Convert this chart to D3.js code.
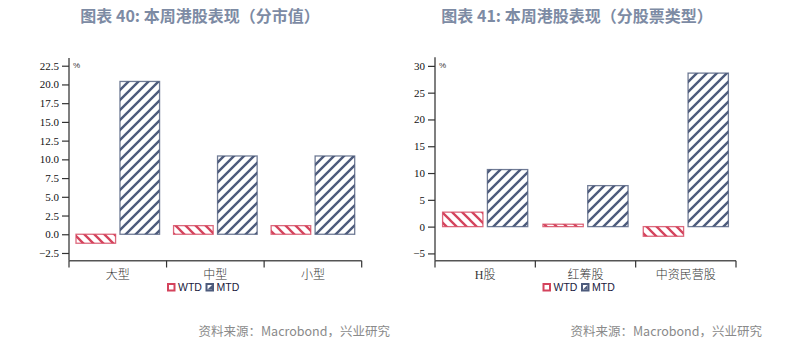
<!DOCTYPE html>
<html><head><meta charset="utf-8">
<script src="https://cdn.jsdelivr.net/npm/d3@7"></script>
<style>body{margin:0;background:#fff;} svg{display:block;}</style>
</head><body>
<svg id="c" width="794" height="347"></svg>
<script>
// ---- data ----
const titles = ["图表 40: 本周港股表现（分市值）", "图表 41: 本周港股表现（分股票类型）"];
const source = "资料来源：Macrobond，兴业研究";
const seriesNames = ["WTD", "MTD"];
const categoriesA = ["大型", "中型", "小型"];
const wtdA = [-1.2, 1.15, 1.15];
const mtdA = [20.4, 10.45, 10.45];
const ticksA = [-2.5, 0, 2.5, 5, 7.5, 10, 12.5, 15, 17.5, 20, 22.5];
const limitsA = [-3.53, 23.53];
const categoriesB = ["H股", "红筹股", "中资民营股"];
const wtdB = [2.7, 0.45, -1.8];
const mtdB = [10.65, 7.65, 28.65];
const ticksB = [-5, 0, 5, 10, 15, 20, 25, 30];
const limitsB = [-6.36, 31.6];

const svg = d3.select("#c");
const RED = "#d4435c", BLUE = "#4d5b7c", AXIS = "#555";
const defs = svg.append("defs");
function hatch(id, color, dir, sw) {
  const p = defs.append("pattern").attr("id", id).attr("patternUnits", "userSpaceOnUse")
    .attr("width", 10).attr("height", 10);
  p.append("rect").attr("width", 10).attr("height", 10).attr("fill", "#fff");
  const d = dir > 0 ? "M-2,2 L2,-2 M0,10 L10,0 M8,12 L12,8" : "M-2,8 L2,12 M0,0 L10,10 M8,-2 L12,2";
  p.append("path").attr("d", d).attr("stroke", color).attr("stroke-width", sw);
}
hatch("hW", RED, -1, 2.3);
hatch("hM", BLUE, 1, 2.4);

function drawChart(o) {
  const g = svg.append("g");
  const y = d3.scaleLinear().domain(o.limits).range([260.7, o.top]);
  const x0 = d3.scaleBand().domain(o.cats).range([o.left, o.right]);
  const pad = o.pad;
  const x1 = d3.scaleBand().domain(seriesNames).range([pad, x0.bandwidth() - pad]).paddingInner(0.1);
  // title
  g.append("text").attr("x", o.titleX).attr("y", 22).attr("text-anchor", "middle")
    .attr("font-family", "Noto Sans CJK SC, Noto Sans, sans-serif").attr("font-size", 16)
    .attr("font-weight", 700).attr("fill", "#7d8ba4").text(o.title);
  // bars
  o.cats.forEach((c, i) => {
    [[o.wtd[i], "WTD", "url(#hW)", RED], [o.mtd[i], "MTD", "url(#hM)", BLUE]].forEach(([v, s, f, col]) => {
      g.append("rect").attr("x", x0(c) + x1(s)).attr("width", x1.bandwidth())
        .attr("y", y(Math.max(0, v))).attr("height", Math.abs(y(v) - y(0)))
        .attr("fill", f).attr("stroke", col).attr("stroke-opacity", 0.8).attr("stroke-width", 1.3);
    });
  });
  // y axis
  const ya = g.append("g").attr("transform", `translate(${o.left},0)`)
    .call(d3.axisLeft(y).tickValues(o.ticks).tickSize(7).tickPadding(3).tickFormat(o.fmt));
  ya.select(".domain").attr("d", `M0,${o.top}V260.7`).attr("stroke", AXIS).attr("stroke-width", 1.5);
  ya.selectAll(".tick line").attr("stroke", "#333").attr("stroke-width", 1.2);
  ya.selectAll(".tick text").attr("font-family", "Liberation Serif, serif").attr("font-size", 11).attr("fill", "#111");
  // % label
  g.append("text").attr("x", o.left + 4).attr("y", y(o.ticks[o.ticks.length - 1]) + 2)
    .attr("font-family", "Liberation Sans Narrow, Liberation Sans, sans-serif").attr("font-size", 8).attr("fill", "#333").text("%");
  // x axis
  g.append("line").attr("x1", o.left).attr("x2", o.right).attr("y1", 260.7).attr("y2", 260.7)
    .attr("stroke", AXIS).attr("stroke-width", 1.5);
  const bounds = o.cats.map(c => x0(c)).concat([o.right]);
  g.selectAll(".xt").data(bounds).join("line").attr("x1", d => d).attr("x2", d => d)
    .attr("y1", 260.7).attr("y2", 267.5).attr("stroke", "#333").attr("stroke-width", 1.2);
  g.selectAll(".xl").data(o.cats).join("text").attr("x", d => x0(d) + x0.bandwidth() / 2).attr("y", 278.5)
    .attr("text-anchor", "middle").attr("font-family", "Liberation Serif, Noto Sans CJK SC, serif")
    .attr("font-size", 12).attr("font-weight", 300).attr("fill", "#333").text(d => d);
  // legend
  const lx = o.legendX;
  [[RED, "WTD", lx], [BLUE, "MTD", lx + 38.5]].forEach(([col, name, px], k) => {
    g.append("rect").attr("x", px + 1).attr("y", 284).attr("width", 6.5).attr("height", 6.5)
      .attr("fill", "#fff").attr("stroke", col).attr("stroke-width", 2);
    if (k === 1) g.append("path").attr("d", `M${px + 2},${289.5}L${px + 6.5},${285}L${px + 6.5},${289.5}Z`).attr("fill", col);
    g.append("text").attr("x", px + 11).attr("y", 291).attr("font-family", "Liberation Sans Narrow, Liberation Sans, sans-serif")
      .attr("font-stretch", "condensed").attr("font-size", 10.5).attr("fill", "#1a1a40").text(name);
  });
  // source
  g.append("text").attr("x", o.srcX).attr("y", 336).attr("text-anchor", "end")
    .attr("font-family", "Noto Sans CJK SC, Noto Sans, sans-serif").attr("font-size", 12.5).attr("fill", "#8a8a8a").text(source);
}

drawChart({title: titles[0], titleX: 200, cats: categoriesA, wtd: wtdA, mtd: mtdA, ticks: ticksA, limits: limitsA,
  left: 69, right: 361.7, top: 58, pad: 7, fmt: d3.format(".1f"), legendX: 167, srcX: 390});
drawChart({title: titles[1], titleX: 577, cats: categoriesB, wtd: wtdB, mtd: mtdB, ticks: ticksB, limits: limitsB,
  left: 435, right: 736, top: 57.3, pad: 7.6, fmt: d3.format("d"), legendX: 542.5, srcX: 762});
</script>
</body></html>
